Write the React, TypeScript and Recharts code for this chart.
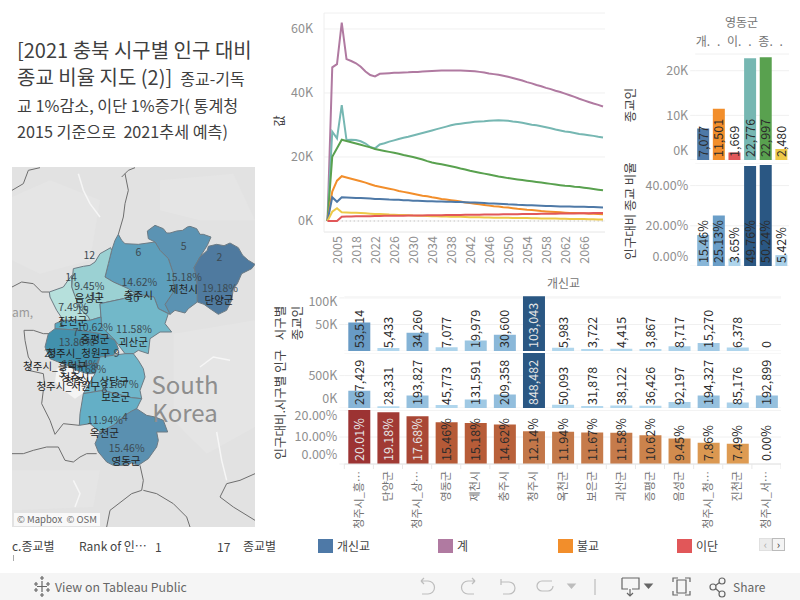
import {
  Bar,
  BarChart,
  CartesianGrid,
  Line,
  LineChart,
  Rectangle,
  Scatter,
  ScatterChart,
  XAxis,
  YAxis,
  ZAxis,
} from "recharts";

const FONT = '"Noto Sans CJK KR", "Noto Sans", sans-serif';
const AXIS_GREY = "#8f8f8f";
const HEAD_GREY = "#757575";
const GRID = "#f0f0f0";

// ---- line chart (unit: thousands)
const years = ["", "1995", "2005", "2015", "2016", "2017", "2018", "2019", "2020", "2021", "2022",
  "2023", "2024", "2025", "2026", "2027", "2028", "2029", "2030", "2031", "2032", "2033", "2034",
  "2035", "2036", "2037", "2038", "2039", "2040", "2041", "2042", "2043", "2044", "2045", "2046",
  "2047", "2048", "2049", "2050", "2051", "2052", "2053", "2054", "2055", "2056", "2057", "2058",
  "2059", "2060", "2061", "2062", "2063", "2064", "2065", "2066", "2067", "2068", "2069", "2070"];
const yearTicks = ["2005", "2018", "2022", "2026", "2030", "2034", "2038", "2042", "2046", "2050", "2054", "2058", "2062", "2066"];
const totalLine = [0, 48, 49, 62, 50.6, 50, 49.3, 48.2, 46.7, 45.6, 45.2, 46, 46.1, 46.2, 46.3, 46.35, 46.4, 46.45, 46.55, 46.6, 46.7, 46.8, 46.9, 46.95, 47, 47, 47, 47, 47, 46.95, 46.9, 46.8, 46.6, 46.4, 46.1, 45.9, 45.7, 45.4, 45.1, 44.7, 44.3, 43.9, 43.4, 43, 42.5, 42.1, 41.6, 41.2, 40.7, 40.3, 39.8, 39.3, 38.8, 38.2, 37.7, 37.2, 36.7, 36.3, 35.8];
const tealLine = [0, 27.9, 25.8, 36.2, 25.3, 25.4, 25.3, 24.9, 24.2, 23.1, 22.7, 23.9, 24.3, 24.8, 25.2, 25.6, 26, 26.3, 26.7, 27.1, 27.5, 27.9, 28.3, 28.7, 29.1, 29.5, 29.9, 30.2, 30.4, 30.6, 30.8, 31, 31.1, 31.2, 31.35, 31.4, 31.45, 31.4, 31.35, 31.1, 30.9, 30.7, 30.4, 30.1, 29.9, 29.6, 29.3, 29, 28.6, 28.3, 28, 27.8, 27.5, 27.2, 27, 26.8, 26.6, 26.3, 26.1];
const greenLine = [0, 20.1, 22.7, 25.4, 25, 24.6, 24.2, 23.8, 23.4, 23, 22.5, 22.2, 21.9, 21.6, 21.3, 21, 20.6, 20.3, 20, 19.6, 19.2, 18.7, 18.3, 18, 17.7, 17.4, 17.1, 16.8, 16.4, 16.1, 15.7, 15.4, 15.1, 14.8, 14.5, 14.2, 13.9, 13.7, 13.4, 13.2, 13, 12.8, 12.6, 12.4, 12.2, 12, 11.8, 11.6, 11.4, 11.2, 11, 10.9, 10.7, 10.6, 10.4, 10.2, 10, 9.8, 9.6];
const orangeLine = [0, 9.2, 12.6, 14, 13.6, 13.2, 12.8, 12.4, 12, 11.5, 11, 10.7, 10.4, 10.1, 9.8, 9.4, 9.1, 8.8, 8.5, 8.2, 7.9, 7.7, 7.4, 7.2, 6.9, 6.7, 6.5, 6.3, 6.1, 5.8, 5.6, 5.4, 5.2, 5, 4.8, 4.6, 4.5, 4.3, 4.2, 4, 3.8, 3.7, 3.5, 3.4, 3.3, 3.1, 3, 2.9, 2.8, 2.7, 2.6, 2.5, 2.5, 2.4, 2.4, 2.3, 2.3, 2.2, 2.1];
const blueLine = [0, 7.4, 6, 7.4, 7.35, 7.3, 7.2, 7.15, 7.1, 7, 6.9, 6.85, 6.8, 6.7, 6.65, 6.6, 6.5, 6.45, 6.35, 6.3, 6.25, 6.2, 6.15, 6.1, 6.1, 6.05, 6, 5.95, 5.9, 5.85, 5.8, 5.75, 5.7, 5.6, 5.5, 5.45, 5.4, 5.3, 5.2, 5.15, 5.05, 5, 4.95, 4.9, 4.85, 4.8, 4.7, 4.65, 4.6, 4.55, 4.5, 4.5, 4.45, 4.45, 4.45, 4.4, 4.35, 4.3, 4.2];
const yellowLine = [0, 2.9, 4, 2.7, 2.65, 2.6, 2.55, 2.5, 2.4, 2.3, 2.2, 2.15, 2.1, 2, 1.95, 1.9, 1.85, 1.8, 1.7, 1.65, 1.6, 1.55, 1.5, 1.45, 1.4, 1.4, 1.35, 1.3, 1.3, 1.25, 1.2, 1.2, 1.15, 1.1, 1.1, 1.05, 1.05, 1, 1, 0.95, 0.95, 0.9, 0.9, 0.85, 0.85, 0.8, 0.8, 0.75, 0.75, 0.7, 0.7, 0.65, 0.65, 0.6, 0.6, 0.55, 0.55, 0.5, 0.5];
const redLine = [0, 0, 0, 1.35, 1.4, 1.42, 1.45, 1.47, 1.5, 1.52, 1.55, 1.57, 1.6, 1.62, 1.63, 1.65, 1.66, 1.68, 1.7, 1.72, 1.74, 1.76, 1.78, 1.8, 1.82, 1.84, 1.86, 1.88, 1.9, 1.92, 1.94, 1.96, 1.98, 2, 2.02, 2.04, 2.06, 2.08, 2.1, 2.12, 2.14, 2.16, 2.18, 2.2, 2.22, 2.24, 2.26, 2.28, 2.3, 2.32, 2.34, 2.36, 2.38, 2.4, 2.42, 2.44, 2.46, 2.48, 2.5];
const seriesColors = { total: "#b07aa1", teal: "#76b7b2", green: "#59a14f", orange: "#f28e2b", blue: "#4e79a7", yellow: "#edc948", red: "#e15759" };

const lineData = years.map((year, i) => ({
  year,
  total: totalLine[i],
  teal: tealLine[i],
  green: greenLine[i],
  orange: orangeLine[i],
  blue: blueLine[i],
  yellow: yellowLine[i],
  red: redLine[i],
  none: i < 3 ? null : 0,
}));

// ---- right bars (영동군)
const religionHeads = ["개.", ".", "이.", ".", "종.", "."];
const believers = [7077, 11501, 1669, 22776, 22997, 2480];
const believerShares = [15.46, 25.13, 3.65, 49.76, 50.24, 5.42];
const believerColors = [seriesColors.blue, seriesColors.orange, seriesColors.red, seriesColors.teal, seriesColors.green, seriesColors.yellow];

// ---- bottom bars (개신교)
const districts = ["청주시_흥…", "단양군", "청주시_상…", "영동군", "제천시", "충주시", "청주시", "옥천군", "보은군", "괴산군", "증평군", "음성군", "청주시_청…", "진천군", "청주시_서…"];
const districtBelievers = [53514, 5433, 34260, 7077, 19979, 30600, 103043, 5983, 3722, 4415, 3867, 8717, 15270, 6378, 0];
const districtPopulation = [267429, 28331, 193827, 45773, 131591, 209358, 848482, 50093, 31878, 38122, 36426, 92197, 194327, 85176, 192899];
const districtShares = [20.01, 19.18, 17.68, 15.46, 15.18, 14.62, 12.14, 11.94, 11.67, 11.58, 10.62, 9.45, 7.86, 7.49, 0];

const blueRamp: [number, number[]][] = [[0, [185, 221, 241]], [0.5, [106, 158, 200]], [1, [42, 87, 131]]];
const redRamp: [number, number[]][] = [[0, [224, 160, 84]], [0.37, [222, 156, 82]], [0.6, [196, 120, 74]], [0.77, [182, 90, 55]], [1, [156, 51, 51]]];

function ramp(stops: [number, number[]][], t: number) {
  for (let i = 1; i < stops.length; i++) {
    if (t <= stops[i][0]) {
      const [a, ca] = stops[i - 1];
      const [b, cb] = stops[i];
      const k = (t - a) / (b - a);
      const c = ca.map((v, j) => Math.round(v + (cb[j] - v) * k));
      return `rgb(${c[0]},${c[1]},${c[2]})`;
    }
  }
  return "#2a5783";
}

// ---- map, in map units
const danyang = [[582, 322], [600, 290], [622, 270], [625, 258], [650, 252], [672, 256], [690, 248], [715, 262], [728, 285], [745, 300], [765, 312], [755, 325], [725, 340], [712, 370], [700, 385], [695, 420], [680, 450], [655, 462], [630, 445], [612, 432], [592, 425], [592, 385], [590, 350]];
const jecheon = [[442, 212], [465, 195], [490, 205], [500, 218], [510, 218], [530, 212], [548, 210], [562, 200], [570, 198], [590, 205], [600, 222], [610, 222], [633, 230], [622, 255], [600, 290], [582, 322], [590, 350], [592, 385], [592, 425], [565, 445], [555, 458], [525, 450], [510, 462], [495, 432], [520, 395], [520, 340], [505, 295], [480, 270], [465, 245], [445, 235]];
const chungju = [[355, 222], [365, 240], [375, 250], [415, 252], [465, 245], [480, 270], [505, 295], [520, 340], [520, 395], [495, 432], [510, 462], [475, 445], [462, 410], [430, 405], [405, 400], [385, 385], [340, 365], [315, 350], [325, 310], [335, 270], [345, 240]];
const eumseong = [[332, 262], [335, 270], [325, 310], [315, 350], [340, 365], [385, 385], [405, 400], [370, 415], [300, 430], [303, 470], [270, 480], [265, 470], [240, 445], [222, 400], [215, 380], [220, 325], [250, 318], [270, 315], [285, 305], [300, 280], [318, 270]];
const jincheon = [[215, 345], [215, 380], [222, 400], [240, 445], [265, 470], [270, 480], [235, 480], [190, 480], [170, 450], [150, 410], [148, 395], [190, 380]];
const goesan = [[300, 430], [370, 415], [405, 400], [430, 405], [462, 410], [475, 445], [505, 460], [495, 490], [515, 515], [480, 515], [450, 535], [445, 580], [415, 570], [400, 580], [375, 580], [345, 540], [305, 500], [303, 470]];
const jeungpyeong = [[165, 490], [190, 480], [270, 480], [303, 470], [305, 500], [345, 540], [300, 520], [240, 510], [165, 505]];
const cheongwon = [[145, 520], [165, 505], [240, 510], [300, 520], [345, 540], [355, 565], [340, 585], [300, 590], [290, 610], [200, 615], [150, 595], [135, 560]];
const sangdang = [[195, 612], [290, 610], [300, 590], [285, 640], [262, 640], [230, 630]];
const boeun = [[300, 590], [340, 585], [375, 580], [400, 580], [415, 600], [430, 625], [435, 650], [420, 690], [425, 715], [395, 712], [345, 700], [310, 690], [280, 695], [250, 700], [285, 640]];
const okcheon = [[250, 700], [280, 695], [310, 690], [345, 700], [395, 712], [425, 715], [410, 745], [375, 765], [340, 795], [300, 815], [270, 790], [238, 795], [240, 760]];
const yeongdong = [[375, 765], [395, 752], [410, 745], [440, 765], [465, 770], [490, 780], [503, 815], [470, 815], [475, 840], [470, 860], [445, 895], [415, 915], [395, 908], [370, 915], [340, 915], [320, 905], [295, 875], [285, 850], [300, 815], [340, 795]];
const regions = [jecheon, danyang, chungju, eumseong, jincheon, goesan, jeungpyeong, cheongwon, sangdang, boeun, okcheon, yeongdong];
const regionColors = ["#5b93b3", "#4f7a9f", "#5d9fbc", "#9bd1d3", "#b6e0dc", "#72b8c9", "#55a8c1", "#4291ad", "#3f8aa8", "#6fb6ca", "#64afc6", "#5a90b0"];

const lightPatches = [
  [[36, 110], [150, 60], [300, 120], [270, 300], [120, 340], [36, 300]],
  [[480, 60], [700, 40], [765, 180], [600, 180], [480, 150]],
  [[520, 520], [765, 480], [765, 800], [620, 880], [520, 780]],
  [[36, 930], [300, 930], [280, 1040], [36, 1050]],
  [[170, 625], [200, 615], [260, 640], [285, 640], [250, 698], [225, 715], [190, 690], [165, 665]],
];
const patchColors = ["#e5e5e5", "#e5e5e5", "#e5e5e5", "#e5e5e5", "#f4f4f4"];
const provinceBorders = [
  [[365, 50], [385, 30], [405, 22]],
  [[375, 40], [385, 90], [375, 130], [370, 170], [355, 222]],
  [[36, 90], [70, 70], [85, 30], [120, 22]],
  [[36, 380], [65, 365], [100, 370], [125, 395], [148, 395]],
  [[150, 520], [130, 520], [100, 510], [72, 510], [75, 540], [85, 590], [95, 605], [85, 630], [130, 640], [135, 680]],
  [[130, 690], [125, 730], [150, 780], [165, 822], [190, 790], [238, 795]],
  [[36, 880], [70, 880], [100, 870], [140, 860], [175, 860], [195, 900], [220, 905], [240, 890], [260, 880], [290, 880]],
  [[420, 915], [430, 960], [425, 990], [395, 1000], [330, 1050], [320, 1100]],
  [[430, 990], [470, 1000], [520, 1030], [560, 1070], [570, 1100]],
  [[765, 940], [720, 960], [680, 970], [660, 1010], [700, 1040], [765, 1080]],
];
const whiteRoads = [
  [[235, 40], [250, 90], [270, 130], [300, 170]],
  [[600, 620], [640, 590], [690, 600]],
  [[650, 815], [665, 900], [680, 960]],
  [[220, 960], [240, 1000], [225, 1040]],
];
const mapNames: [string, number, number][] = [
  ["음성군", 268, 415], ["진천군", 218, 482], ["증평군", 285, 538], ["괴산군", 400, 545],
  ["청주시_청원구", 235, 580], ["청주시_흥덕구", 165, 618], ["청주시", 225, 650], ["청주시_서원구", 205, 677],
  ["청주시_상당구", 290, 662], ["보은군", 347, 710], ["옥천군", 313, 818], ["영동군", 378, 902],
  ["충주시", 415, 405], ["제천시", 550, 388], ["단양군", 657, 420],
];
const mapValues: [string, number, number][] = [
  ["12", 268, 285], ["14", 213, 350], ["9.45%", 268, 377], ["11", 288, 408], ["7.49%", 220, 442], ["15", 248, 450],
  ["1", 185, 490], ["10.62%", 285, 500], ["7", 227, 517], ["13.86%", 230, 545], ["11.58%", 402, 507], ["20", 150, 580],
  ["9", 350, 578], ["17.68%", 265, 626], ["12.14%", 240, 612], ["3", 185, 640], ["11.67%", 362, 672], ["8", 313, 688],
  ["11.94%", 315, 780], ["4", 375, 772], ["15.46%", 380, 864], ["14.62%", 418, 367], ["10", 400, 415], ["6", 415, 276],
  ["5", 551, 258], ["15.18%", 552, 350], ["2", 658, 290], ["19.18%", 660, 384],
];

// ---- legend row
const legendItems = [
  { name: "개신교", color: "#4e79a7", x: 318 },
  { name: "계", color: "#b07aa1", x: 438 },
  { name: "불교", color: "#f28e2b", x: 558 },
  { name: "이단", color: "#e15759", x: 677 },
];

const toPoints = (poly: number[][]) => poly.map(([x, y]) => ({ x, y }));

function PaneBars({ names, values, box, yWidth, domain, ticks, tickFmt, colors, labelFmt, lightFrom, barSize, headHeight = 0, bottomAxis }: any) {
  const data = names.map((name: string, i: number) => ({ name, value: values[i], color: colors[i] }));
  const axisH = bottomAxis ? box.height - bottomAxis - headHeight : 0;
  const paneTop = headHeight;
  const paneBottom = box.height - axisH;
  const renderYTick = ({ x, y, payload }: any) => (
    <text x={x} y={Math.max(paneTop + 6, Math.min(y, paneBottom - 9))} dy="0.35em" textAnchor="end" fontSize={12.5} fill={AXIS_GREY} fontFamily={FONT}>
      {tickFmt(payload.value)}
    </text>
  );
  const renderBar = (p: any) => {
    const px = p.x + p.width / 2;
    const py = p.y + p.height - 3;
    const v = p.payload.value;
    return (
      <g>
        <Rectangle x={p.x} y={p.y} width={p.width} height={p.height} fill={p.payload.color} />
        <text x={px} y={py} dy="0.36em" transform={`rotate(-90 ${px} ${py})`} fontSize={12.5} fontFamily={FONT} fill={v >= lightFrom ? "#e6e6e6" : "#2b2b2b"}>
          {labelFmt(v)}
        </text>
      </g>
    );
  };
  const renderName = ({ x, y, payload, index }: any) => {
    const step = (box.width - yWidth) / names.length;
    return (
      <g>
        <line x1={x - step / 2} x2={x - step / 2} y1={y - 6} y2={y - 1} stroke="#e8e8e8" />
        {index === names.length - 1 && <line x1={x + step / 2} x2={x + step / 2} y1={y - 6} y2={y - 1} stroke="#e8e8e8" />}
        <text x={x} y={y + 1} dy="0.36em" transform={`rotate(-90 ${x} ${y + 1})`} textAnchor="end" fontSize={11} fill={HEAD_GREY} fontFamily={FONT}>
          {payload.value}
        </text>
      </g>
    );
  };
  return (
    <div style={{ position: "absolute", left: box.left, top: box.top }}>
      <BarChart width={box.width} height={box.height} data={data} margin={{ top: 0, right: 0, bottom: 0, left: 0 }} barSize={barSize}>
        <CartesianGrid vertical={false} stroke={GRID} />
        {headHeight > 0 && (
          <XAxis xAxisId="head" dataKey="name" orientation="top" height={headHeight} axisLine={false} tickLine={false} interval={0}
            tick={{ fontSize: 12, fill: HEAD_GREY, fontFamily: FONT }} />
        )}
        <XAxis dataKey="name" height={axisH} interval={0} axisLine={{ stroke: "#e4e4e4" }} tickLine={false} tick={bottomAxis ? renderName : false} tickMargin={0} />
        <YAxis width={yWidth} type="number" domain={domain} ticks={ticks} interval={0} allowDataOverflow tick={renderYTick} axisLine={false} tickSize={5} tickLine={{ stroke: GRID }} />
        <Bar dataKey="value" isAnimationActive={false} shape={renderBar} />
      </BarChart>
    </div>
  );
}

function RegionMap() {
  const noMark = () => <g />;
  const nameText = (p: any) => (
    <text x={p.cx} y={p.cy} dy="0.36em" textAnchor="middle" fontSize={10.5} fill="#222" fontFamily={FONT}>{p.payload.label}</text>
  );
  const valueText = (p: any) => (
    <text x={p.cx} y={p.cy} dy="0.36em" textAnchor="middle" fontSize={10.5} fill="#3c4a52" fontFamily={FONT}>{p.payload.label}</text>
  );
  const toLabels = (rows: [string, number, number][]) => rows.map(([label, x, y]) => ({ label, x, y }));
  return (
    <div style={{ position: "absolute", left: 12, top: 167, background: "#e2e2e2" }}>
      <ScatterChart width={243} height={360} margin={{ top: 0, right: 0, bottom: 0, left: 0 }}>
        <XAxis type="number" dataKey="x" domain={[36, 765]} hide allowDataOverflow />
        <YAxis type="number" dataKey="y" domain={[20, 1100]} reversed hide allowDataOverflow />
        <ZAxis range={[1, 1]} />
        {lightPatches.map((poly, i) => (
          <Scatter key={`l${i}`} data={toPoints([...poly, poly[0]])} shape={noMark} line={{ fill: patchColors[i], stroke: "none" }} isAnimationActive={false} />
        ))}
        {whiteRoads.map((road, i) => (
          <Scatter key={`r${i}`} data={toPoints(road)} shape={noMark} line={{ stroke: "#f6f6f6", strokeWidth: 1.5 }} isAnimationActive={false} />
        ))}
        {provinceBorders.map((border, i) => (
          <Scatter key={`b${i}`} data={toPoints(border)} shape={noMark} line={{ stroke: "#6e6e6e", strokeWidth: 1 }} isAnimationActive={false} />
        ))}
        {regions.map((poly, i) => (
          <Scatter key={`p${i}`} data={toPoints([...poly, poly[0]])} shape={noMark} line={{ fill: regionColors[i], stroke: "#6d7b84", strokeWidth: 1 }} isAnimationActive={false} />
        ))}
        <Scatter data={toLabels(mapValues)} shape={valueText} isAnimationActive={false} />
        <Scatter data={toLabels(mapNames)} shape={nameText} isAnimationActive={false} />
      </ScatterChart>
      <div style={{ position: "absolute", left: 123, top: 203, fontSize: 24, lineHeight: "28px", color: "#8e8e8e", textAlign: "center", width: 100, fontFamily: FONT }}>
        South<br />Korea
      </div>
      <div style={{ position: "absolute", left: 0, top: 136, fontSize: 12, color: "#9a9a9a", fontFamily: FONT }}>am,</div>
      <div style={{ position: "absolute", left: 2, top: 346, height: 13, padding: "0 3px", background: "rgba(255,255,255,.75)", fontSize: 9.5, lineHeight: "13px", color: "#666", fontFamily: FONT, whiteSpace: "pre" }}>
        © Mapbox  © OSM
      </div>
    </div>
  );
}

function vText(x: number, y: number, text: string, size = 12.5, color = "#444") {
  return (
    <div style={{ position: "absolute", left: x - 60, top: y - 10, width: 120, height: 20, lineHeight: "20px", textAlign: "center", fontSize: size, color, fontFamily: FONT, transform: "rotate(-90deg)", whiteSpace: "nowrap" }}>
      {text}
    </div>
  );
}

function plainText(x: number, y: number, text: string, size = 12, color = "#555") {
  return (
    <div style={{ position: "absolute", left: x, top: y - 10, height: 20, lineHeight: "20px", fontSize: size, color, fontFamily: FONT, whiteSpace: "nowrap" }}>
      {text}
    </div>
  );
}

function Footer() {
  const dim = "#bdbdbd";
  const dark = "#666";
  return (
    <div style={{ position: "absolute", left: 0, top: 573, width: 800, height: 27, background: "#f5f5f5" }}>
      {plainText(55, 14, "View on Tableau Public", 12.3, "#666")}
      {plainText(733, 14, "Share", 12, "#666")}
      <svg width={800} height={27} style={{ position: "absolute", left: 0, top: 0 }} fill="none" strokeWidth={1.2}>
        <g stroke={dark}>
          <path d="M42 8v11M37 13.5h10M42 3v4M40 5h4M42 20v4M40 22h4M36 9v4M34 11h4M48 9v4M46 11h4M36 15v4M34 17h4M48 15v4M46 17h4" />
        </g>
        <g stroke={dim}>
          <path d="M421 8h7a6 6 0 0 1 0 13h-6M421 8l3-3M421 8l3 3" />
          <path d="M475 8h-7a6 6 0 0 0 0 13h6M475 8l-3-3M475 8l-3 3" />
          <path d="M501 6v6M501 9h8a6 6 0 0 1 0 12h-6" />
          <path d="M552 8h-10a5 5 0 0 0 0 10h6a5 5 0 0 0 5-5" />
          <path d="M568 11h7l-3.5 4z" fill={dim} />
          <path d="M595 6v16" />
        </g>
        <g stroke={dark}>
          <path d="M622 5h17v11h-7M630 16v7M627 20l3 3 3-3M622 5v11h6" />
          <path d="M645 11h7l-3.5 4z" fill={dark} />
          <path d="M673 9v-4h5M685 5h5v4M690 18v4h-5M678 22h-5v-4M677 7h9v13h-9z" />
          <circle cx={722} cy={8} r={3} />
          <circle cx={713} cy={14} r={3} />
          <circle cx={722} cy={21} r={3} />
          <path d="M715.5 12.5l4-3M715.5 15.5l4 3.5" />
        </g>
      </svg>
    </div>
  );
}

export default function App() {
  const yearTick = ({ x, y, payload }: any) => (
    <text x={x} y={y - 5} dy="0.36em" transform={`rotate(-90 ${x} ${y - 5})`} textAnchor="end" fontSize={12.5} fill={AXIS_GREY} fontFamily={FONT}>
      {payload.value}
    </text>
  );
  const lineProps = { type: "linear" as const, dot: false, strokeWidth: 2, isAnimationActive: false };
  const maxPeople = Math.max(...districtPopulation);
  const maxBelievers = Math.max(...districtBelievers);
  return (
    <div style={{ position: "absolute", left: 0, top: 0, width: 800, height: 600, overflow: "hidden", background: "#fff", fontFamily: FONT }}>
      {/* title */}
      <div style={{ position: "absolute", left: 17, top: 36, width: 240, fontSize: 20, lineHeight: "27px", color: "#3f3f3f" }}>
        [2021 충북 시구별 인구 대비<br />종교 비율 지도 (2)] <span style={{ fontSize: 16 }}>&nbsp;종교-기독</span>
      </div>
      <div style={{ position: "absolute", left: 17, top: 92, width: 250, fontSize: 16.2, lineHeight: "26px", color: "#3f3f3f", whiteSpace: "nowrap" }}>
        교 1%감소, 이단 1%증가( 통계청<br />2015 기준으로&nbsp; 2021추세 예측)
      </div>

      <RegionMap />

      {/* trend lines */}
      <div style={{ position: "absolute", left: 270, top: 0 }}>
        <LineChart width={340} height={270} data={lineData} margin={{ top: 13, right: 5, bottom: 0, left: 0 }}>
          <CartesianGrid vertical={false} stroke={GRID} />
          <XAxis dataKey="year" height={38} ticks={yearTicks} interval={0} padding={{ left: 3.5, right: 2 }} axisLine={{ stroke: "#eeeeee" }} tickLine={false} tick={yearTick} tickMargin={3} />
          <YAxis width={54} type="number" domain={[-3.44, 65]} ticks={[0, 20, 40, 60]} interval={0} allowDataOverflow tickFormatter={(v: number) => `${v}K`} axisLine={{ stroke: "#eeeeee" }} tickLine={false} tickMargin={5} tick={{ fontSize: 12.5, fill: AXIS_GREY, fontFamily: FONT }} />
          <Line dataKey="none" stroke="#b5b5b5" strokeWidth={1} strokeDasharray="1 3" dot={false} isAnimationActive={false} />
          <Line dataKey="total" stroke={seriesColors.total} {...lineProps} />
          <Line dataKey="teal" stroke={seriesColors.teal} {...lineProps} />
          <Line dataKey="green" stroke={seriesColors.green} {...lineProps} />
          <Line dataKey="orange" stroke={seriesColors.orange} {...lineProps} />
          <Line dataKey="blue" stroke={seriesColors.blue} {...lineProps} />
          <Line dataKey="yellow" stroke={seriesColors.yellow} {...lineProps} />
          <Line dataKey="red" stroke={seriesColors.red} {...lineProps} />
        </LineChart>
      </div>
      {vText(279, 121, "값")}

      {/* 영동군 bars */}
      {plainText(725, 22, "영동군", 12, HEAD_GREY)}
      <PaneBars
        names={religionHeads} values={believers} box={{ left: 640, top: 30, width: 149, height: 130 }}
        yWidth={55.2} headHeight={24} domain={[0, 23750]} ticks={[0, 10000, 20000]}
        tickFmt={(v: number) => `${v / 1000}K`} colors={believerColors} labelFmt={(v: number) => v.toLocaleString("en-US")}
        lightFrom={Infinity} barSize={12}
      />
      <PaneBars
        names={religionHeads} values={believerShares} box={{ left: 640, top: 163, width: 149, height: 103 }}
        yWidth={55.2} domain={[0, 51.25]} ticks={[0, 20, 40]}
        tickFmt={(v: number) => `${v.toFixed(2)}%`} colors={believerShares.map((v) => ramp(blueRamp, v / 50.24))} labelFmt={(v: number) => `${v.toFixed(2)}%`}
        lightFrom={Infinity} barSize={12}
      />
      {vText(630, 105, "종교인")}
      {vText(630, 211, "인구대비 종교 비율")}

      {/* 개신교 bars */}
      {plainText(547, 283, "개신교", 12, HEAD_GREY)}
      <PaneBars
        names={districts} values={districtBelievers} box={{ left: 290, top: 296, width: 491, height: 55 }}
        yWidth={54.3} domain={[0, 103600]} ticks={[50000, 100000]}
        tickFmt={(v: number) => `${v / 1000}K`} colors={districtBelievers.map((v) => ramp(blueRamp, v / maxBelievers))} labelFmt={(v: number) => v.toLocaleString("en-US")}
        lightFrom={80000} barSize={22}
      />
      <PaneBars
        names={districts} values={districtPopulation} box={{ left: 290, top: 353, width: 491, height: 55 }}
        yWidth={54.3} domain={[0, 848482]} ticks={[0, 500000]}
        tickFmt={(v: number) => `${v / 1000}K`} colors={districtPopulation.map((v) => ramp(blueRamp, v / maxPeople))} labelFmt={(v: number) => v.toLocaleString("en-US")}
        lightFrom={800000} barSize={22}
      />
      <PaneBars
        names={districts} values={districtShares} box={{ left: 290, top: 410, width: 491, height: 125 }}
        yWidth={54.3} bottomAxis={54} domain={[0, 20.01]} ticks={[0, 10, 20]}
        tickFmt={(v: number) => `${v.toFixed(2)}%`} colors={districtShares.map((v) => ramp(redRamp, v / 20.01))} labelFmt={(v: number) => `${v.toFixed(2)}%`}
        lightFrom={17} barSize={22}
      />
      {vText(280, 323, "시구별")}
      {vText(297, 323, "종교인")}
      {vText(280, 380, "시구별 인구")}
      {vText(280, 433, "인구대비..")}

      {/* legend row */}
      {plainText(12, 546, "c.종교별", 12, "#444")}
      <div style={{ position: "absolute", left: 13, top: 555, width: 1, height: 6, background: "#aaa" }} />
      {plainText(79, 546, "Rank of 인…", 12, "#444")}
      {plainText(155, 547, "1", 12, "#444")}
      {plainText(217, 547, "17", 12, "#444")}
      {plainText(243, 546, "종교별", 12, "#444")}
      {legendItems.map((item) => (
        <div key={item.name}>
          <div style={{ position: "absolute", left: item.x, top: 539, width: 15, height: 14, background: item.color }} />
          {plainText(item.x + 19, 546, item.name, 12, "#444")}
        </div>
      ))}
      <div style={{ position: "absolute", left: 759, top: 538, width: 13, height: 13, background: "#ececec", border: "1px solid #e0e0e0", boxSizing: "border-box", fontSize: 11, lineHeight: "11px", textAlign: "center", color: "#aaa" }}>‹</div>
      <div style={{ position: "absolute", left: 772, top: 538, width: 13, height: 13, background: "#f4f4f4", border: "1px solid #bbb", boxSizing: "border-box", fontSize: 11, lineHeight: "11px", textAlign: "center", color: "#333" }}>›</div>

      <Footer />
    </div>
  );
}
